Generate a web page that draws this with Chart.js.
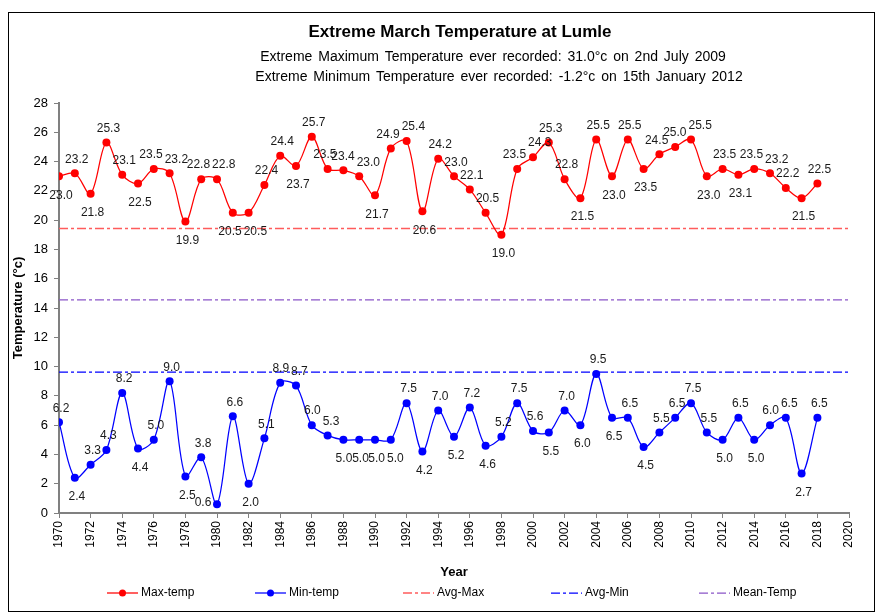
<!DOCTYPE html>
<html lang="en">
<head>
<meta charset="UTF-8">
<title>Extreme March Temperature at Lumle</title>
<script src="https://cdn.jsdelivr.net/npm/chart.js"></script>
<style>
  html, body { margin: 0; padding: 0; background: #fff; }
</style>
</head>
<body>
<canvas id="tempChart" width="882" height="614"></canvas>
<script>
// data
const years = [1970, 1971, 1972, 1973, 1974, 1975, 1976, 1977, 1978, 1979,
               1980, 1981, 1982, 1983, 1984, 1985, 1986, 1987, 1988, 1989,
               1990, 1991, 1992, 1993, 1994, 1995, 1996, 1997, 1998, 1999,
               2000, 2001, 2002, 2003, 2004, 2005, 2006, 2007, 2008, 2009,
               2010, 2011, 2012, 2013, 2014, 2015, 2016, 2017, 2018];
const maxTemp = [23.0, 23.2, 21.8, 25.3, 23.1, 22.5, 23.5, 23.2, 19.9, 22.8,
                 22.8, 20.5, 20.5, 22.4, 24.4, 23.7, 25.7, 23.5, 23.4, 23.0,
                 21.7, 24.9, 25.4, 20.6, 24.2, 23.0, 22.1, 20.5, 19.0, 23.5,
                 24.3, 25.3, 22.8, 21.5, 25.5, 23.0, 25.5, 23.5, 24.5, 25.0,
                 25.5, 23.0, 23.5, 23.1, 23.5, 23.2, 22.2, 21.5, 22.5];
const minTemp = [6.2, 2.4, 3.3, 4.3, 8.2, 4.4, 5.0, 9.0, 2.5, 3.8,
                 0.6, 6.6, 2.0, 5.1, 8.9, 8.7, 6.0, 5.3, 5.0, 5.0,
                 5.0, 5.0, 7.5, 4.2, 7.0, 5.2, 7.2, 4.6, 5.2, 7.5,
                 5.6, 5.5, 7.0, 6.0, 9.5, 6.5, 6.5, 4.5, 5.5, 6.5,
                 7.5, 5.5, 5.0, 6.5, 5.0, 6.0, 6.5, 2.7, 6.5];
const refYears = [1970, 2020];
const avgMax = [19.43, 19.43];
const avgMin = [9.62, 9.62];
const meanTemp = [14.55, 14.55];
const yearTicks = [1970, 2020, 2];
const tempTicks = [0, 28, 2];

const FONT = '"Liberation Sans", Arial, sans-serif';

function pts(xs, ys) {
    return ys.map((y, i) => ({ x: xs[i], y: y }));
}

// white page + outer frame
const frame = {
    id: 'frame',
    beforeDraw(chart) {
        const ctx = chart.ctx;
        ctx.save();
        ctx.fillStyle = '#fff';
        ctx.fillRect(0, 0, chart.width, chart.height);
        ctx.strokeStyle = '#000';
        ctx.lineWidth = 1;
        ctx.strokeRect(8.5, 12.5, 866, 599);
        ctx.restore();
    }
};

// value labels on the two temperature series
const pointLabels = {
    id: 'pointLabels',
    afterDatasetsDraw(chart) {
        const ctx = chart.ctx;
        const bottom = chart.chartArea.bottom;
        ctx.save();
        ctx.font = '12px ' + FONT;
        ctx.fillStyle = '#1a1a1a';
        ctx.textAlign = 'center';
        ctx.textBaseline = 'middle';
        [0, 1].forEach(di => {
            const vals = chart.data.datasets[di].data.map(p => p.y);
            const boxes = [];
            chart.getDatasetMeta(di).data.forEach((pt, i) => {
                const v = vals[i];
                const nb = [];
                if (i > 0) nb.push(vals[i - 1]);
                if (i < vals.length - 1) nb.push(vals[i + 1]);
                const above = v > Math.min(...nb);
                let x = pt.x + 2, y = above ? pt.y - 14 : pt.y + 19;
                if (!above && y > bottom - 6) { x = pt.x - 14; y = pt.y - 2; }
                const txt = v.toFixed(1);
                const w = ctx.measureText(txt).width;
                const prev = boxes[i - 1];
                if (prev && Math.abs(prev.y - y) < 12) {
                    const overlap = (prev.x + prev.w / 2 + 2) - (x - w / 2);
                    if (overlap > 0) {
                        prev.x -= overlap / 2;
                        x += overlap / 2;
                    }
                }
                boxes.push({ x, y, w, txt });
            });
            boxes.forEach(b => ctx.fillText(b.txt, b.x, b.y));
        });
        ctx.restore();
    }
};

// titles, axis titles and legend, laid out like the spreadsheet chart
const decorations = {
    id: 'decorations',
    afterDraw(chart) {
        const ctx = chart.ctx;
        const area = chart.chartArea;
        ctx.save();
        ctx.fillStyle = '#000';
        ctx.textAlign = 'center';
        ctx.textBaseline = 'middle';
        ctx.font = 'bold 17px ' + FONT;
        ctx.fillText('Extreme March Temperature at Lumle', 460, 32);
        ctx.font = '14px ' + FONT;
        ctx.wordSpacing = '2px';
        ctx.fillText('Extreme Maximum Temperature ever recorded: 31.0\u00b0c on 2nd July 2009', 493, 57);
        ctx.fillText('Extreme Minimum Temperature ever recorded: -1.2\u00b0c on 15th January 2012', 499, 77);
        ctx.wordSpacing = '0px';

        ctx.font = 'bold 13px ' + FONT;
        ctx.fillText('Year', (area.left + area.right) / 2, 572);
        ctx.save();
        ctx.translate(18, (area.top + area.bottom) / 2);
        ctx.rotate(-Math.PI / 2);
        ctx.fillText('Temperature (\u00b0c)', 0, 0);
        ctx.restore();

        // legend
        ctx.font = '12px ' + FONT;
        ctx.textAlign = 'left';
        chart.data.datasets.forEach((ds, i) => {
            const x0 = 107 + i * 148, y = 593;
            ctx.save();
            ctx.strokeStyle = ds.borderColor;
            ctx.lineWidth = ds.borderWidth;
            ctx.setLineDash(ds.borderDash || []);
            ctx.beginPath();
            ctx.moveTo(x0, y);
            ctx.lineTo(x0 + 31, y);
            ctx.stroke();
            if (ds.pointRadius > 0) {
                ctx.fillStyle = ds.backgroundColor;
                ctx.beginPath();
                ctx.arc(x0 + 15.5, y, 3.5, 0, Math.PI * 2);
                ctx.fill();
            }
            ctx.restore();
            ctx.fillStyle = '#000';
            ctx.fillText(ds.label, x0 + 34, y);
        });
        ctx.restore();
    }
};

const axisColor = '#808080';

new Chart(document.getElementById('tempChart'), {
    type: 'line',
    data: {
        datasets: [
            {
                label: 'Max-temp',
                data: pts(years, maxTemp),
                borderColor: '#ff0000',
                backgroundColor: '#ff0000',
                borderWidth: 1.25,
                pointRadius: 4,
                pointBorderWidth: 0,
                tension: 0.33
            },
            {
                label: 'Min-temp',
                data: pts(years, minTemp),
                borderColor: '#0000ff',
                backgroundColor: '#0000ff',
                borderWidth: 1.25,
                pointRadius: 4,
                pointBorderWidth: 0,
                tension: 0.33
            },
            {
                label: 'Avg-Max',
                data: pts(refYears, avgMax),
                borderColor: '#ff5c5c',
                borderWidth: 1.5,
                borderDash: [9, 3, 3, 3],
                pointRadius: 0
            },
            {
                label: 'Avg-Min',
                data: pts(refYears, avgMin),
                borderColor: '#0000ff',
                borderWidth: 1.25,
                borderDash: [9, 3, 3, 3],
                pointRadius: 0
            },
            {
                label: 'Mean-Temp',
                data: pts(refYears, meanTemp),
                borderColor: '#8a55c8',
                borderWidth: 1.25,
                borderDash: [9, 3, 3, 3],
                pointRadius: 0
            }
        ]
    },
    options: {
        responsive: false,
        animation: false,
        devicePixelRatio: 1,
        layout: { padding: { left: 0, right: 33, top: 103, bottom: 0 } },
        plugins: {
            legend: { display: false },
            tooltip: { enabled: false }
        },
        scales: {
            x: {
                type: 'linear',
                min: yearTicks[0],
                max: yearTicks[1],
                afterFit: s => { s.height = 101; },
                border: { color: axisColor, width: 2 },
                grid: { drawOnChartArea: false, drawTicks: true, tickLength: 5, color: axisColor },
                ticks: {
                    stepSize: yearTicks[2],
                    minRotation: 90,
                    maxRotation: 90,
                    padding: 3,
                    color: '#000',
                    font: { family: FONT, size: 12 },
                    callback: v => String(v)
                }
            },
            y: {
                min: tempTicks[0],
                max: tempTicks[1],
                afterFit: s => { s.width = 59; },
                border: { color: axisColor, width: 2 },
                grid: { drawOnChartArea: false, drawTicks: true, tickLength: 5, color: axisColor },
                ticks: {
                    stepSize: tempTicks[2],
                    padding: 6,
                    color: '#000',
                    font: { family: FONT, size: 13 }
                }
            }
        }
    },
    plugins: [frame, pointLabels, decorations]
});
</script>
</body>
</html>
